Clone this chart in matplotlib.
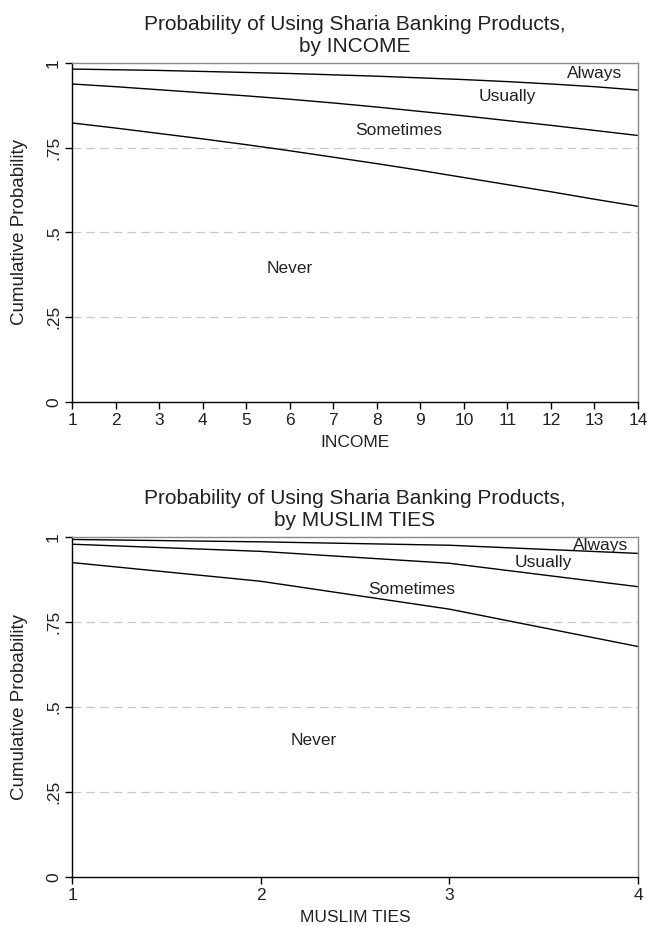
import numpy as np
import matplotlib.pyplot as plt

plt.rcParams['font.family'] = ['Liberation Sans', 'DejaVu Sans']

# top panel: cumulative probability by INCOME
income = list(range(1, 15))
inc_always = [0.982, 0.980, 0.978, 0.975, 0.972, 0.969, 0.965, 0.961, 0.956, 0.951, 0.945, 0.938, 0.930, 0.920]
inc_usually = [0.938, 0.930, 0.921, 0.912, 0.903, 0.893, 0.882, 0.870, 0.857, 0.844, 0.830, 0.816, 0.801, 0.786]
inc_sometimes = [0.823, 0.808, 0.792, 0.776, 0.759, 0.741, 0.722, 0.703, 0.683, 0.662, 0.641, 0.620, 0.598, 0.577]

# bottom panel: cumulative probability by MUSLIM TIES
ties = [1, 2, 3, 4]
ties_always = [0.993, 0.986, 0.976, 0.952]
ties_usually = [0.979, 0.958, 0.923, 0.854]
ties_sometimes = [0.925, 0.870, 0.788, 0.678]

yticks = [0, 0.25, 0.5, 0.75, 1]
yticklabels = ['0', '.25', '.5', '.75', '1']

inc_labels = [('Always', 13.0, 0.97), ('Usually', 11.0, 0.90),
              ('Sometimes', 8.5, 0.80), ('Never', 6.0, 0.395)]
ties_labels = [('Always', 3.8, 0.976), ('Usually', 3.5, 0.926),
               ('Sometimes', 2.8, 0.847), ('Never', 2.28, 0.40)]


def draw_panel(ax, x, curves, labels, xlabel, title, xticks):
    for c in curves:
        ax.plot(x, c, color='black', linewidth=1.0)
    for g in yticks[1:-1]:
        ax.axhline(g, color='#c8c8c8', linewidth=0.9, dashes=(7, 4), zorder=0)
    for txt, tx, ty in labels:
        ax.text(tx, ty, txt, ha='center', va='center', fontsize=12.5, color='#222222')
    ax.set_xlim(x[0], x[-1])
    ax.set_ylim(0, 1)
    ax.set_xticks(xticks)
    ax.set_yticks(yticks)
    ax.set_yticklabels(yticklabels, rotation=90, va='center')
    ax.tick_params(axis='both', labelsize=12.5, length=5, width=1, direction='out',
                   labelcolor='#222222', pad=3)
    ax.set_xlabel(xlabel, fontsize=12.5, labelpad=5, color='#222222')
    ax.set_ylabel('Cumulative Probability', fontsize=13.5, labelpad=13, color='#222222')
    ax.set_title(title, fontsize=15, pad=8, linespacing=1.22, color='#222222')
    for s in ['top', 'right']:
        ax.spines[s].set_color('#888888')
        ax.spines[s].set_linewidth(1.0)
    for s in ['left', 'bottom']:
        ax.spines[s].set_linewidth(1.0)


fig = plt.figure(figsize=(6.49, 9.26), dpi=100)
ax1 = fig.add_axes([0.111, 0.566, 0.872, 0.366])
ax2 = fig.add_axes([0.111, 0.053, 0.872, 0.367])

draw_panel(ax1, income, [inc_always, inc_usually, inc_sometimes], inc_labels,
           'INCOME', 'Probability of Using Sharia Banking Products,\nby INCOME', income)
draw_panel(ax2, ties, [ties_always, ties_usually, ties_sometimes], ties_labels,
           'MUSLIM TIES', 'Probability of Using Sharia Banking Products,\nby MUSLIM TIES', ties)

fig.savefig('out.png', dpi=100)
